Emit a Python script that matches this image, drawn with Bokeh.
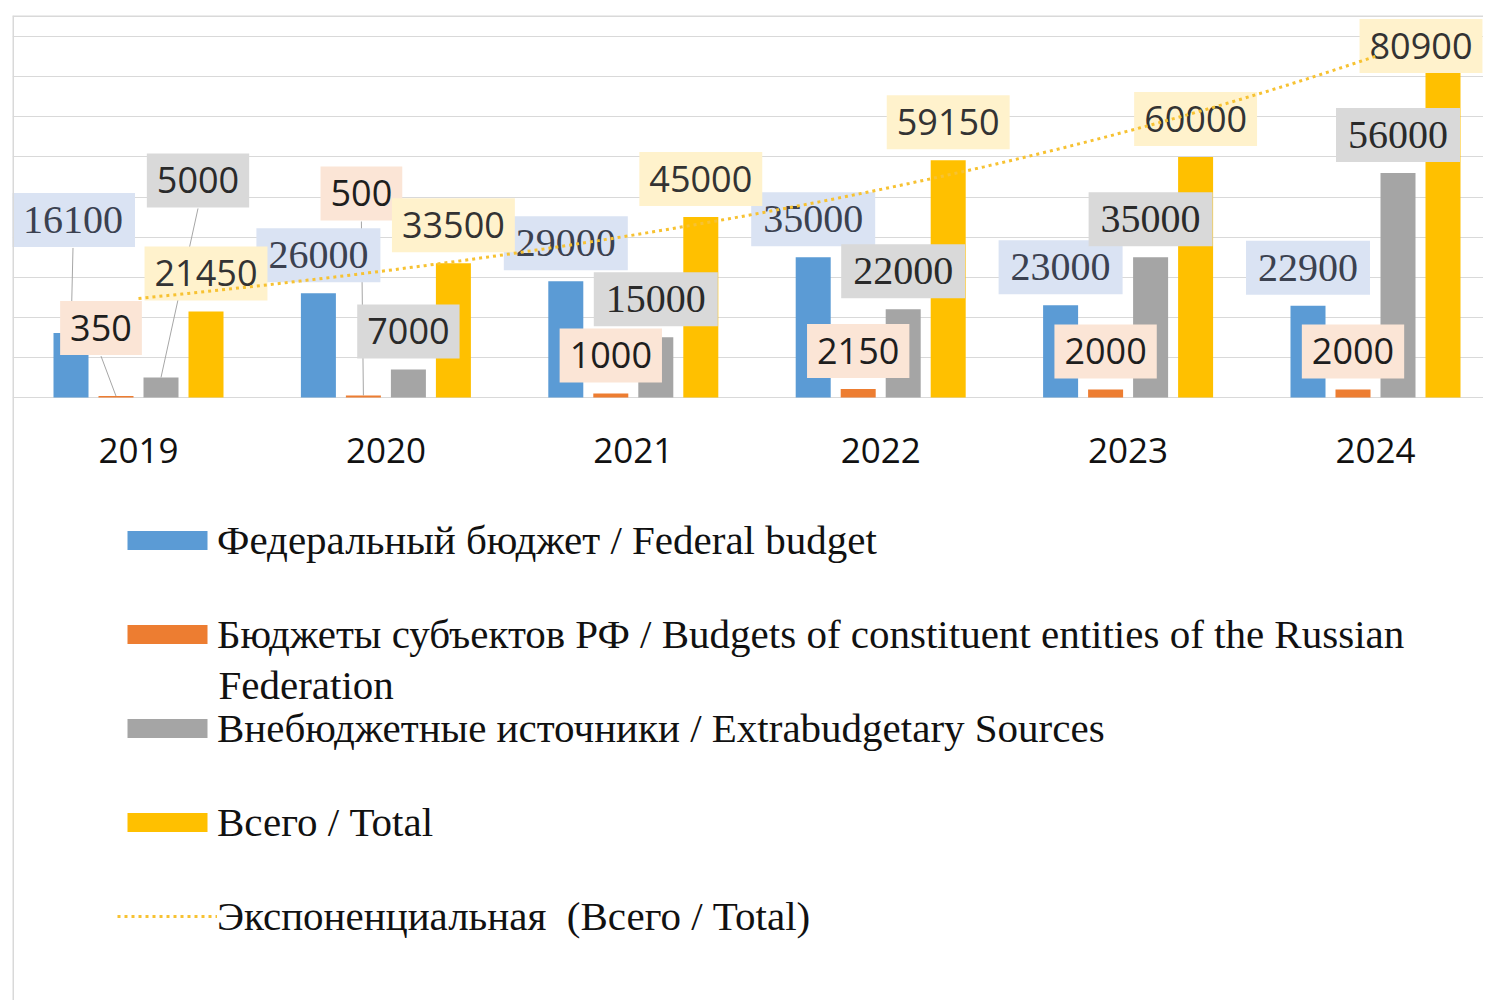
import numpy as np
from bokeh.plotting import figure
from bokeh.models import Range1d, Grid, FixedTicker, ColumnDataSource, Legend, LegendItem, Label, Span
from bokeh.core.properties import value
from bokeh.embed import file_html
from bokeh.resources import INLINE

# ---------------- data ----------------
years = ["2019", "2020", "2021", "2022", "2023", "2024"]
federal = [16100, 26000, 29000, 35000, 23000, 22900]
regional = [350, 500, 1000, 2150, 2000, 2000]
extrabudget = [5000, 7000, 15000, 22000, 35000, 56000]
total = [21450, 33500, 45000, 59150, 60000, 80900]
series_names = [
    "Федеральный бюджет / Federal budget",
    "Бюджеты субъектов РФ / Budgets of constituent entities of the Russian",
    "Внебюджетные источники / Extrabudgetary Sources",
    "Всего / Total",
]
trend_name = "Экспоненциальная  (Всего / Total)"
wrap_line = "Federation"
grid_values = [0, 10000, 20000, 30000, 40000, 50000, 60000, 70000, 80000, 90000]

# ---------------- styles / layout ----------------
W, H = 1483, 1000
BL, BT = 12, 15                     # canvas borders before frame
FW, FH = W - BL, H - BT
PX_CAT = 247.4                      # px per category
PX_Y = 40.1 / 10000.0               # px per unit
X0 = -(138 - BL) / PX_CAT
X1 = X0 + FW / PX_CAT
Y1 = (397 - BT) / PX_Y
Y0 = Y1 - FH / PX_Y

colors = ["#5B9BD5", "#ED7D31", "#A5A5A5", "#FFC000"]
box_colors = ["#DAE3F3", "#FBE5D6", "#D9D9D9", "#FFF2CC"]
text_colors = ["#3B4150", "#1E1E1E", "#2A2A2A", "#333333"]
SERIF, SANS = "Liberation Serif", "Open Sans"
label_fonts = [
    [SERIF] * 6,
    [SANS] * 6,
    [SANS, SANS, SERIF, SERIF, SERIF, SERIF],
    [SANS] * 6,
]
font_sizes = {SERIF: "40px", SANS: "36px"}
font_pads = {SERIF: dict(x=12, y=14), SANS: dict(x=10, y=14)}
bar_off_px = [-67.5, -22.5, 22.5, 67.5]
bar_w_px = 35
DEFAULT_OFF = (0, 38)
# (series, year index) -> (dx px, dy px up) of label centre from bar top centre
label_moves = {
    (0, 0): (2, 113),
    (1, 0): (-15, 68),
    (2, 0): (37, 197),
    (1, 1): (-2, 202),
    (3, 5): (-22, 27),
}
leaders = [(0, 0), (1, 0), (2, 0), (1, 1)]
BOX_HALF_H = 28

p = figure(width=W, height=H, output_backend="svg", toolbar_location=None,
           x_axis_type=None, y_axis_type=None,
           x_range=Range1d(X0, X1), y_range=Range1d(Y0, Y1))
p.min_border = 0
p.min_border_left = BL
p.min_border_top = BT
p.outline_line_color = None
p.background_fill_color = "white"
p.border_fill_color = "white"

g = Grid(dimension=1, ticker=FixedTicker(ticks=grid_values),
         grid_line_color="#D9D9D9", grid_line_width=1)
p.add_layout(g)
p.add_layout(Span(location=X0, dimension="height", line_color="#D9D9D9", line_width=3))
p.add_layout(Span(location=Y1, dimension="width", line_color="#D9D9D9", line_width=3))

series = [federal, regional, extrabudget, total]
idx = np.arange(len(years))
bar_renderers = []
for s, vals in enumerate(series):
    xs = idx + bar_off_px[s] / PX_CAT
    src = ColumnDataSource(dict(x=xs, top=vals))
    r = p.vbar(x="x", top="top", bottom=0, width=bar_w_px / PX_CAT, source=src,
               fill_color=colors[s], line_color=None)
    bar_renderers.append(r)

# leader lines
lx0, ly0, lx1, ly1 = [], [], [], []
for (s, i) in leaders:
    bx = i + bar_off_px[s] / PX_CAT
    by = series[s][i]
    dx, dy = label_moves.get((s, i), DEFAULT_OFF)
    lx0.append(bx + dx / PX_CAT)
    ly0.append(by + (dy - BOX_HALF_H) / PX_Y)
    lx1.append(bx)
    ly1.append(by)
p.segment(x0=lx0, y0=ly0, x1=lx1, y1=ly1, line_color="#A6A6A6", line_width=1)

# data labels
for s, vals in enumerate(series):
    for font in (SERIF, SANS):
        lx, ly, txt = [], [], []
        for i, v in enumerate(vals):
            if label_fonts[s][i] != font:
                continue
            dx, dy = label_moves.get((s, i), DEFAULT_OFF)
            lx.append(i + (bar_off_px[s] + dx) / PX_CAT)
            ly.append(v + dy / PX_Y)
            txt.append(str(v))
        if not txt:
            continue
        src = ColumnDataSource(dict(x=lx, y=ly, t=txt))
        p.text(x="x", y="y", text="t", source=src, text_font=value(font),
               text_font_size=font_sizes[font],
               text_align="center", text_baseline="middle", text_color=text_colors[s],
               background_fill_color=box_colors[s], padding=font_pads[font])

# exponential trendline fitted to totals
xi = idx + 1.0
b, lna = np.polyfit(xi, np.log(total), 1)
tx = np.linspace(0, len(years) - 1, 200)
ty = np.exp(lna + b * (tx + 1.0))
trend = p.line(tx, ty, line_color="#F7C232", line_width=3, line_dash="3 4")

# category labels
p.text(x=idx, y=[-53 / PX_Y] * len(years), text=years, text_font=value(SANS),
       text_font_size="35px", text_align="center", text_baseline="middle",
       text_color="#111111")

# legend
items = [LegendItem(label=series_names[k], renderers=[bar_renderers[k]]) for k in range(4)]
items.append(LegendItem(label=trend_name, renderers=[trend]))
leg = Legend(items=items, location=(105, 60), orientation="vertical",
             glyph_width=100, glyph_height=24, label_height=24, spacing=46,
             label_standoff=0, padding=0, margin=0,
             label_text_font=SERIF, label_text_font_size="41px", label_text_color="#111111",
             border_line_alpha=0, background_fill_alpha=0)
p.add_layout(leg, "center")

p.add_layout(Label(x=X0 + (218 - BL) / PX_CAT, y=Y1 - (684 - BT) / PX_Y, text=wrap_line,
                   text_font=SERIF, text_font_size="41px", text_color="#111111",
                   text_baseline="middle"))

open("out.html", "w").write(file_html(p, INLINE))
